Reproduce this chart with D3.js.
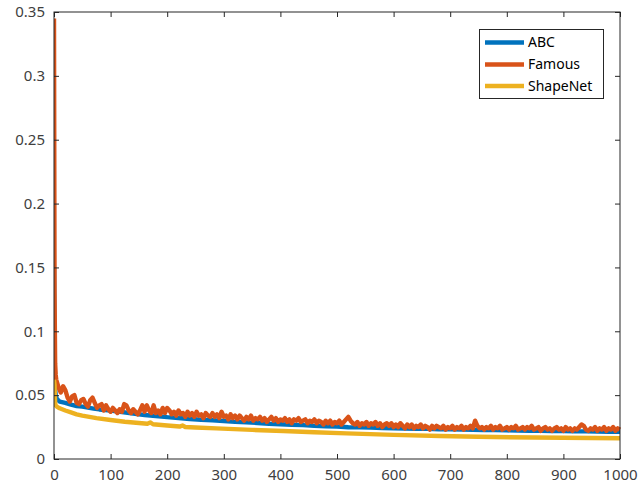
<!DOCTYPE html>
<html>
<head>
<meta charset="utf-8">
<script src="https://cdn.jsdelivr.net/npm/d3@7"></script>
<style>
  html, body { margin: 0; padding: 0; background: #fff; }
  svg { display: block; }
  text { font-family: "Noto Sans", "Open Sans", sans-serif; }
</style>
</head>
<body>
<svg id="chart" width="640" height="487"></svg>
<script>
// ---------- data ----------
const seriesNames = ["ABC", "Famous", "ShapeNet"];
const seriesColors = ["#0072BD", "#D95319", "#EDB120"];

const xTicks = [0, 100, 200, 300, 400, 500, 600, 700, 800, 900, 1000];
const yTicks = [0, 0.05, 0.1, 0.15, 0.2, 0.25, 0.3, 0.35];
const yTickLabels = ["0", "0.05", "0.1", "0.15", "0.2", "0.25", "0.3", "0.35"];

const abcX = [0, 1, 2, 3, 5, 10, 20, 30, 40, 50, 60, 70, 80, 90, 100, 120, 140, 160, 180, 200,
  220, 240, 260, 280, 300, 320, 340, 360, 380, 400, 420, 440, 460, 480, 500, 520, 540, 560, 580, 600,
  620, 640, 660, 680, 700, 720, 740, 760, 780, 800, 820, 840, 860, 880, 900, 920, 940, 960, 980, 1000];
const abcY = [0.15, 0.075, 0.055, 0.05, 0.047, 0.045, 0.044, 0.0425, 0.0415, 0.041, 0.0402, 0.0395, 0.0388, 0.0383, 0.038, 0.0368, 0.0355, 0.0345, 0.0337, 0.0328,
  0.0321, 0.0313, 0.0307, 0.0303, 0.0297, 0.0291, 0.0287, 0.0282, 0.0276, 0.0272, 0.0268, 0.0265, 0.0259, 0.0257, 0.0254, 0.0249, 0.0248, 0.0246, 0.0242, 0.0241,
  0.0239, 0.0237, 0.0236, 0.0233, 0.0232, 0.023, 0.0229, 0.0226, 0.0226, 0.0224, 0.0223, 0.0221, 0.022, 0.0219, 0.0218, 0.0216, 0.0216, 0.0214, 0.0213, 0.0212];

// first iterations (0..3), then every 4th iteration from 4 to 1000
const famousStartX = [0, 1, 2, 3];
const famousStartY = [0.345, 0.13, 0.075, 0.066];
const famousStep = 4;
const famousY = [
  0.062, 0.056, 0.052, 0.057, 0.054, 0.048, 0.045, 0.049, 0.050, 0.044,
  0.043, 0.046, 0.047, 0.043, 0.041, 0.046, 0.048, 0.044, 0.040, 0.042,
  0.043, 0.038, 0.042, 0.039, 0.037, 0.040, 0.038, 0.036, 0.039, 0.037,
  0.043, 0.042, 0.038, 0.036, 0.039, 0.037, 0.035, 0.038, 0.042, 0.037,
  0.042, 0.038, 0.036, 0.042, 0.036, 0.038, 0.035, 0.040, 0.036, 0.040,
  0.038, 0.035, 0.037, 0.034, 0.038, 0.035, 0.036, 0.033, 0.037, 0.034,
  0.036, 0.033, 0.037, 0.034, 0.035, 0.032, 0.036, 0.034, 0.033, 0.036,
  0.033, 0.035, 0.032, 0.037, 0.033, 0.034, 0.031, 0.035, 0.032, 0.034,
  0.031, 0.034, 0.032, 0.030, 0.033, 0.031, 0.034, 0.030, 0.032, 0.031,
  0.033, 0.030, 0.032, 0.029, 0.031, 0.033, 0.030, 0.032, 0.029, 0.031,
  0.030, 0.032, 0.029, 0.031, 0.028, 0.031, 0.030, 0.032, 0.029, 0.030,
  0.031, 0.028, 0.030, 0.029, 0.031, 0.028, 0.030, 0.029, 0.027, 0.030,
  0.028, 0.030, 0.027, 0.029, 0.028, 0.030, 0.027, 0.029, 0.031, 0.033,
  0.030, 0.028, 0.027, 0.029, 0.026, 0.028, 0.027, 0.029, 0.026, 0.028,
  0.027, 0.029, 0.026, 0.028, 0.025, 0.027, 0.028, 0.026, 0.028, 0.025,
  0.027, 0.025, 0.028, 0.026, 0.024, 0.027, 0.025, 0.027, 0.024, 0.026,
  0.025, 0.027, 0.024, 0.026, 0.025, 0.023, 0.026, 0.024, 0.026, 0.025,
  0.024, 0.026, 0.023, 0.025, 0.024, 0.026, 0.023, 0.025, 0.024, 0.026,
  0.023, 0.025, 0.024, 0.026, 0.024, 0.030, 0.026, 0.024, 0.025, 0.023,
  0.025, 0.024, 0.026, 0.023, 0.025, 0.024, 0.026, 0.023, 0.024, 0.025,
  0.023, 0.025, 0.024, 0.026, 0.023, 0.024, 0.025, 0.023, 0.025, 0.024,
  0.026, 0.023, 0.024, 0.025, 0.022, 0.024, 0.025, 0.023, 0.024, 0.022,
  0.024, 0.025, 0.023, 0.024, 0.022, 0.025, 0.023, 0.024, 0.022, 0.024,
  0.023, 0.025, 0.027, 0.026, 0.023, 0.022, 0.024, 0.023, 0.025, 0.022,
  0.024, 0.023, 0.025, 0.022, 0.024, 0.023, 0.025, 0.022, 0.024, 0.023];

const shapeX = [0, 1, 2, 3, 5, 10, 20, 30, 40, 50, 75, 100, 125, 150, 165, 170, 175, 200,
  222, 227, 232, 250, 287, 350, 405, 460, 517, 600, 682, 750, 850, 1000];
const shapeY = [0.062, 0.058, 0.044, 0.042, 0.041, 0.0397, 0.038, 0.0365, 0.035, 0.034, 0.032, 0.0305, 0.0292, 0.0282, 0.0276, 0.0286, 0.0272, 0.0262,
  0.0254, 0.0262, 0.0251, 0.0247, 0.024, 0.0228, 0.0219, 0.021, 0.0201, 0.0189, 0.018, 0.0174, 0.0168, 0.0162];

// ---------- layout ----------
const plot = { left: 54, top: 12, right: 620, bottom: 459 };
const svg = d3.select("#chart");

const x = d3.scaleLinear().domain([0, 1000]).range([plot.left, plot.right]);
const y = d3.scaleLinear().domain([0, 0.35]).range([plot.bottom, plot.top]);

const axisColor = "#262626";
const fontSize = 15;

svg.append("defs").append("clipPath").attr("id", "clip")
  .append("rect")
  .attr("x", plot.left).attr("y", plot.top - 2)
  .attr("width", plot.right - plot.left + 2).attr("height", plot.bottom - plot.top + 2);

// series
const famousPts = famousStartX.map((v, k) => [v, famousStartY[k]])
  .concat(famousY.map((v, k) => [(k + 1) * famousStep, v]));
const series = [
  abcX.map((v, k) => [v, abcY[k]]),
  famousPts,
  shapeX.map((v, k) => [v, shapeY[k]])
];
const line = d3.line().x(d => x(d[0])).y(d => y(d[1]));
const g = svg.append("g").attr("clip-path", "url(#clip)");
series.forEach((pts, i) => {
  g.append("path")
    .attr("d", line(pts))
    .attr("fill", "none")
    .attr("stroke", seriesColors[i])
    .attr("stroke-width", 4.4)
    .attr("stroke-linejoin", "round")
    .attr("stroke-linecap", "butt");
});

// axes (box with inward ticks)
const tickLen = 5;
const bottomAxis = d3.axisBottom(x).tickValues(xTicks).tickSize(-tickLen).tickPadding(10).tickFormat(d3.format("d"));
const leftAxis = d3.axisLeft(y).tickValues(yTicks).tickSize(-tickLen).tickPadding(9).tickFormat((d, i) => yTickLabels[i]);
const topAxis = d3.axisTop(x).tickValues(xTicks).tickSize(-tickLen).tickFormat("");
const rightAxis = d3.axisRight(y).tickValues(yTicks).tickSize(-tickLen).tickFormat("");

function styleAxis(sel) {
  sel.select("path.domain").remove();
  sel.selectAll(".tick line").attr("stroke", axisColor).attr("stroke-width", 1);
  sel.selectAll(".tick text").attr("fill", "#404040").style("font-size", fontSize + "px")
    .style("font-family", '"Noto Sans", "Open Sans", sans-serif');
}

const gb = svg.append("g").attr("transform", `translate(0,${plot.bottom})`).call(bottomAxis);
const gl = svg.append("g").attr("transform", `translate(${plot.left},0)`).call(leftAxis);
const gt = svg.append("g").attr("transform", `translate(0,${plot.top})`).call(topAxis);
const gr = svg.append("g").attr("transform", `translate(${plot.right},0)`).call(rightAxis);
[gb, gl, gt, gr].forEach(styleAxis);
svg.append("rect")
  .attr("x", plot.left).attr("y", plot.top)
  .attr("width", plot.right - plot.left).attr("height", plot.bottom - plot.top)
  .attr("fill", "none").attr("stroke", axisColor).attr("stroke-width", 1);

// legend
const legend = { x: 479.5, y: 29.5, w: 124, h: 69 };
const lg = svg.append("g");
lg.append("rect")
  .attr("x", legend.x).attr("y", legend.y).attr("width", legend.w).attr("height", legend.h)
  .attr("fill", "#fff").attr("stroke", axisColor).attr("stroke-width", 1);
const legendRowsY = [42.5, 64.5, 86];
seriesNames.forEach((name, i) => {
  lg.append("line")
    .attr("x1", 485).attr("x2", 524)
    .attr("y1", legendRowsY[i]).attr("y2", legendRowsY[i])
    .attr("stroke", seriesColors[i]).attr("stroke-width", 4.4);
  lg.append("text")
    .attr("x", 528).attr("y", legendRowsY[i])
    .attr("dy", "0.35em")
    .attr("fill", "#000")
    .style("font-size", "14px")
    .text(name);
});
</script>
</body>
</html>
